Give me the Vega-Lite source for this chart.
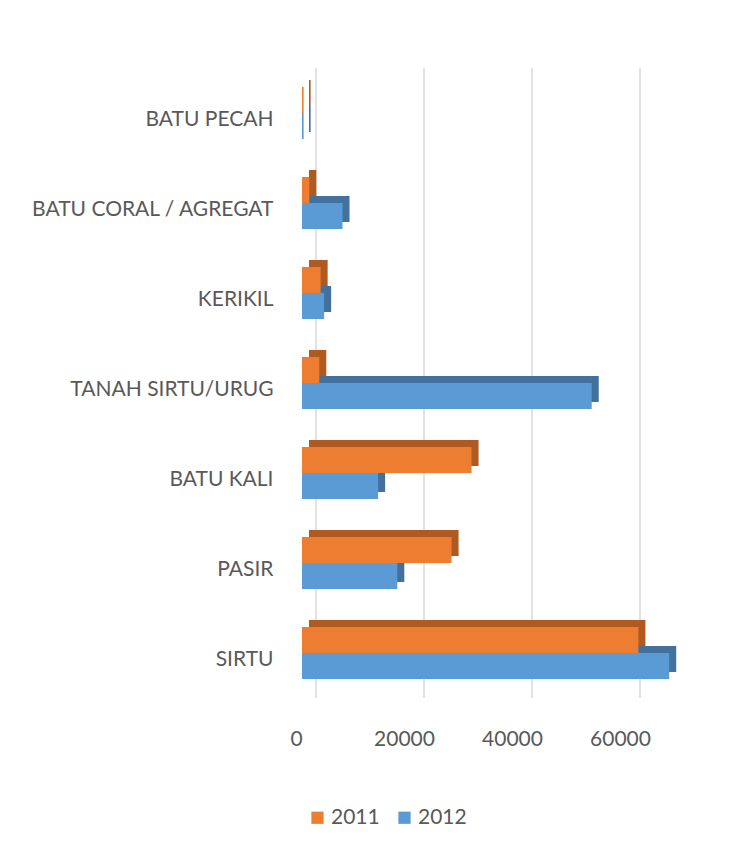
{
  "$schema": "https://vega.github.io/schema/vega-lite/v6.json",
  "autosize": {"type": "none"},
  "padding": {"left": 302, "top": 68, "right": 74, "bottom": 158},
  "width": 378,
  "height": 630,
  "background": "white",
  "config": {
    "view": {"stroke": null},
    "font": "Lato",
    "axis": {"labelFont": "Lato", "labelColor": "#595959"},
    "legend": {"labelFont": "Lato", "labelColor": "#595959"}
  },
  "data": {
    "values": [
      {"item": "BATU PECAH", "year": "2011", "value": 300},
      {"item": "BATU PECAH", "year": "2012", "value": 300},
      {"item": "BATU CORAL / AGREGAT", "year": "2011", "value": 1350},
      {"item": "BATU CORAL / AGREGAT", "year": "2012", "value": 7500},
      {"item": "KERIKIL", "year": "2011", "value": 3450},
      {"item": "KERIKIL", "year": "2012", "value": 4100},
      {"item": "TANAH SIRTU/URUG", "year": "2011", "value": 3200},
      {"item": "TANAH SIRTU/URUG", "year": "2012", "value": 53650},
      {"item": "BATU KALI", "year": "2011", "value": 31400},
      {"item": "BATU KALI", "year": "2012", "value": 14100},
      {"item": "PASIR", "year": "2011", "value": 27700},
      {"item": "PASIR", "year": "2012", "value": 17650},
      {"item": "SIRTU", "year": "2011", "value": 62300},
      {"item": "SIRTU", "year": "2012", "value": 68000}
    ]
  },
  "resolve": {"scale": {"y": "independent", "yOffset": "independent"}},
  "layer": [
    {
      "data": {"values": [{"g": 0}, {"g": 20000}, {"g": 40000}, {"g": 60000}]},
      "mark": {"type": "rule", "color": "#D9D9D9", "strokeWidth": 1.5, "xOffset": 14},
      "encoding": {
        "x": {"field": "g", "type": "quantitative", "scale": {"domain": [0, 70000], "nice": false}}
      }
    },
    {
      "mark": {"type": "bar", "xOffset": 7, "x2Offset": 7},
      "encoding": {
        "y": {"field": "item", "type": "nominal", "sort": ["BATU PECAH", "BATU CORAL / AGREGAT", "KERIKIL", "TANAH SIRTU/URUG", "BATU KALI", "PASIR", "SIRTU"], "scale": {"range": [-7, 623], "paddingInner": 0.4222, "paddingOuter": 0.2111}, "axis": null},
        "yOffset": {"field": "year", "type": "nominal", "sort": ["2011", "2012"], "scale": {"paddingInner": 0, "paddingOuter": 0}},
        "x": {"field": "value", "type": "quantitative"},
        "fill": {"condition": {"test": "datum.year === '2011'", "value": "#AE5A21"}, "value": "#41719C"}
      }
    },
    {
      "mark": {"type": "bar"},
      "encoding": {
        "y": {
          "field": "item", "type": "nominal",
          "sort": ["BATU PECAH", "BATU CORAL / AGREGAT", "KERIKIL", "TANAH SIRTU/URUG", "BATU KALI", "PASIR", "SIRTU"],
          "scale": {"paddingInner": 0.4222, "paddingOuter": 0.2111},
          "axis": {"title": null, "domain": false, "ticks": false, "labelFontSize": 21, "labelPadding": 29, "labelOffset": 7, "labelLimit": 400}
        },
        "yOffset": {"field": "year", "type": "nominal", "sort": ["2011", "2012"], "scale": {"paddingInner": 0, "paddingOuter": 0}},
        "x": {
          "field": "value", "type": "quantitative",
          "axis": {"title": null, "domain": false, "ticks": false, "grid": false, "values": [0, 20000, 40000, 60000], "format": "d", "labelFontSize": 21, "labelPadding": 30, "labelOffset": -6, "labelFlush": false}
        },
        "color": {
          "field": "year", "type": "nominal",
          "scale": {"domain": ["2011", "2012"], "range": ["#ED7D31", "#5B9BD5"]},
          "legend": {"title": null, "orient": "none", "direction": "horizontal", "legendX": 5, "legendY": 739, "symbolType": "square", "symbolSize": 150, "symbolStrokeWidth": 0, "symbolOpacity": 1, "labelFontSize": 21, "labelOffset": 3, "columnPadding": 14}
        }
      }
    }
  ]
}
